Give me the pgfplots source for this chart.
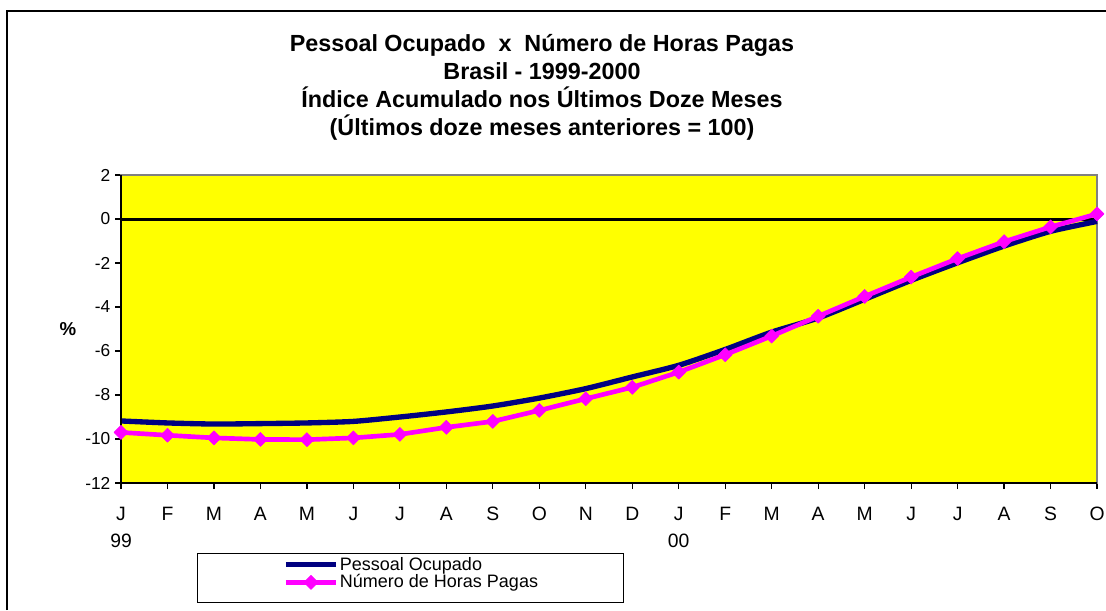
\documentclass[border=0pt]{standalone}
\usepackage{fontspec}
\setmainfont{Liberation Sans}
\usepackage{pgfplots}
\usepackage{pgfplotstable}
\pgfplotsset{compat=1.18}
\definecolor{navyc}{RGB}{0,0,128}
\definecolor{pinkc}{RGB}{255,0,255}
\definecolor{plotyellow}{RGB}{255,255,0}
\pgfplotstableread{
x pessoal horas
0 -9.18 -9.70
1 -9.27 -9.83
2 -9.32 -9.95
3 -9.30 -10.02
4 -9.27 -10.03
5 -9.20 -9.95
6 -9.00 -9.79
7 -8.77 -9.47
8 -8.50 -9.20
9 -8.14 -8.70
10 -7.71 -8.17
11 -7.18 -7.65
12 -6.65 -6.96
13 -5.93 -6.17
14 -5.14 -5.32
15 -4.50 -4.42
16 -3.65 -3.52
17 -2.79 -2.64
18 -1.99 -1.80
19 -1.23 -1.03
20 -0.56 -0.36
21 -0.11 0.23
}\datatable
\begin{document}
\begin{tikzpicture}[x=0.75bp,y=0.75bp]
\useasboundingbox (0,0) rectangle (1106,610);
\fill[white] (0,0) rectangle (1106,610);
\draw[black, line width=1.5bp] (7,0) -- (7,598.5) -- (1106,598.5);
\node[font=\fontsize{17.5bp}{21bp}\selectfont\bfseries, align=center] at (542,522.5)
  {Pessoal Ocupado\ \ x\ \ Número de Horas Pagas\\Brasil - 1999-2000\\Índice Acumulado nos Últimos Doze Meses\\(Últimos doze meses anteriores = 100)};
\begin{axis}[
  at={(90.75bp,95.25bp)}, anchor=south west,
  scale only axis, width=732bp, height=231bp,
  xmin=0, xmax=21, ymin=-12, ymax=2,
  xtick={0,...,21},
  xticklabels={{J\\99},F,M,A,M,J,J,A,S,O,N,D,{J\\00},F,M,A,M,J,J,A,S,O},
  ytick={-12,-10,...,2},
  xtick pos=bottom, ytick pos=left,
  tick align=outside, major tick length=4.5bp,
  tick style={black, line width=0.9bp},
  axis background/.style={fill=plotyellow},
  axis line style={draw=gray, line width=1.5bp},
  /pgf/number format/assume math mode=true,
  xticklabel style={align=center, font=\fontsize{14.5bp}{20bp}\selectfont, yshift=-10bp},
  yticklabel style={font=\fontsize{13bp}{14bp}\selectfont},
  every axis y label/.style={at={(axis description cs:0,0.5)}, anchor=center, xshift=-39.75bp},
  ylabel={\bfseries\%},
  ylabel style={font=\fontsize{14bp}{16bp}\selectfont\bfseries},
  clip=false,
  legend style={at={(axis description cs:0.166,-0.2938)}, anchor=west, draw=none, fill=none,
    font=\fontsize{13.5bp}{15.75bp}\selectfont, inner sep=0pt, row sep=0pt,
    nodes={inner sep=1bp}},
  legend cell align=left,
  legend image code/.code={\draw[mark repeat=2,mark phase=2,#1] plot coordinates {(0bp,0bp) (18.75bp,0bp) (37.5bp,0bp)};},
]
\addplot[black, line width=2.25bp, forget plot] coordinates {(0,0) (21,0)};
\addplot[navyc, line width=4bp, line join=round, smooth, tension=0.4] table[x=x, y=pessoal] {\datatable};
\addlegendentry{Pessoal Ocupado}
\addplot[pinkc, line width=3.5bp, line join=round, mark=square*, mark size=3.7bp, mark options={rotate=45, solid, fill=pinkc, line width=0.5bp}] table[x=x, y=horas] {\datatable};
\addlegendentry{Número de Horas Pagas}
\draw[black, line width=1.5bp] (rel axis cs:0,1) -- (rel axis cs:0,0) -- (rel axis cs:1,0);
\end{axis}
\draw[black, line width=0.75bp] (197,57) rectangle (623,8);
\end{tikzpicture}
\end{document}
